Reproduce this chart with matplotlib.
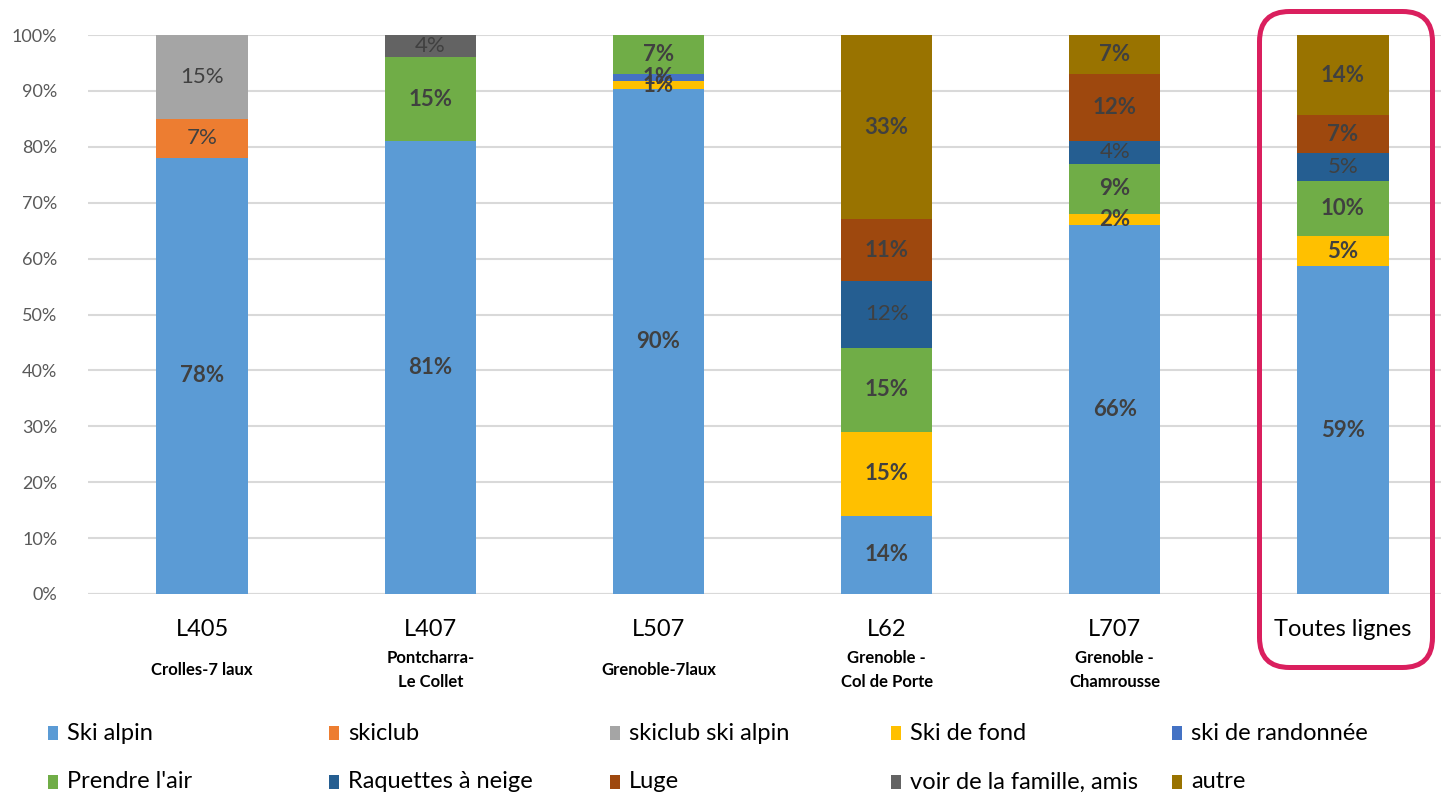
import matplotlib
matplotlib.use("Agg")
import matplotlib.pyplot as plt
import numpy as np
from matplotlib.patches import FancyBboxPatch, Rectangle
from matplotlib.transforms import IdentityTransform

plt.rcParams['font.family'] = ['Lato', 'DejaVu Sans']

# donnees (% par ligne)
lignes = ['L405', 'L407', 'L507', 'L62', 'L707', 'Toutes lignes']
sous_titres = ['Crolles-7 laux', 'Pontcharra-\nLe Collet', 'Grenoble-7laux',
               'Grenoble -\nCol de Porte', 'Grenoble -\nChamrousse', '']

series = ['Ski alpin', 'skiclub', 'skiclub ski alpin', 'Ski de fond', 'ski de randonnée',
          "Prendre l'air", 'Raquettes à neige', 'Luge', 'voir de la famille, amis', 'autre']

ski_alpin      = [78, 81, 90.4, 14, 66, 58.6]
skiclub        = [7, 0, 0, 0, 0, 0]
skiclub_alpin  = [15, 0, 0, 0, 0, 0]
ski_fond       = [0, 0, 1.3, 15, 2, 5.4]
ski_rando      = [0, 0, 1.3, 0, 0, 0]
prendre_air    = [0, 15, 7, 15, 9, 9.9]
raquettes      = [0, 0, 0, 12, 4, 5.0]
luge           = [0, 0, 0, 11, 12, 6.7]
famille        = [0, 4, 0, 0, 0, 0]
autre          = [0, 0, 0, 33, 7, 14.4]

valeurs = [ski_alpin, skiclub, skiclub_alpin, ski_fond, ski_rando,
           prendre_air, raquettes, luge, famille, autre]
couleurs = ['#5B9BD5', '#ED7D31', '#A5A5A5', '#FFC000', '#4472C4',
            '#70AD47', '#255E91', '#9E480E', '#636363', '#997300']
gras = [True, False, False, True, True, True, False, True, False, True]

fig = plt.figure(figsize=(14.41, 7.95), dpi=100)
ax = fig.add_axes([88/1441, 1-594/795, 1369/1441, 559/795])

x = np.arange(len(lignes))
bas = np.zeros(len(lignes))
for nom, v, c, g in zip(series, valeurs, couleurs, gras):
    v = np.array(v, dtype=float)
    ax.bar(x, v, 0.40, bottom=bas, color=c, zorder=3)
    for xi, b0, vi in zip(x, bas, v):
        if vi > 0:
            ax.text(xi, b0 + vi/2, '%.0f%%' % vi, ha='center', va='center',
                    fontsize=16, color='#404040',
                    fontweight='bold' if g else 'normal', zorder=4)
    bas += v

ax.set_xlim(-0.5, len(lignes) - 0.5)
ax.set_ylim(0, 100)
ax.set_yticks(np.arange(0, 101, 10))
ax.set_yticklabels(['%d%%' % t for t in range(0, 101, 10)], fontsize=13, color='#595959')
ax.yaxis.grid(True, color='#D9D9D9', lw=1.5, zorder=0)
ax.tick_params(axis='y', length=0, pad=22)
ax.tick_params(axis='x', length=0)
ax.set_xticks(x)
ax.set_xticklabels([])
for s in ax.spines.values():
    s.set_visible(False)
ax.axhline(0, color='#D9D9D9', lw=1.5, zorder=2)

# etiquettes de categories
for xi, l, st in zip(x, lignes, sous_titres):
    ax.annotate(l, xy=(xi, 0), xycoords='data', xytext=(0, -35), textcoords='offset pixels',
                ha='center', va='center', fontsize=17, color='#000000')
    if st:
        ax.annotate(st, xy=(xi, 0), xycoords='data', xytext=(0, -76), textcoords='offset pixels',
                    ha='center', va='center', fontsize=12, fontweight='bold',
                    color='#000000', linespacing=1.55)

# cadre rouge autour de "Toutes lignes"
cadre = FancyBboxPatch((1259.5 + 30, 795 - 667.5 + 30), 173 - 60, 656 - 60,
                       boxstyle='round,pad=30', transform=IdentityTransform(),
                       facecolor='none', edgecolor='#DA1F5E', lw=3.6, zorder=5)
fig.patches.append(cadre)

# legende
for i, (nom, c) in enumerate(zip(series, couleurs)):
    col, row = i % 5, i // 5
    px = 48 + col * 281
    py = 795 - (733 + row * 49)
    fig.patches.append(Rectangle((px, py - 7), 10, 14, transform=IdentityTransform(),
                                 facecolor=c, edgecolor='none'))
    fig.text((px + 19) / 1441, py / 795, nom, ha='left', va='center',
             fontsize=17, color='#000000')

fig.savefig('out.png', dpi=100)
